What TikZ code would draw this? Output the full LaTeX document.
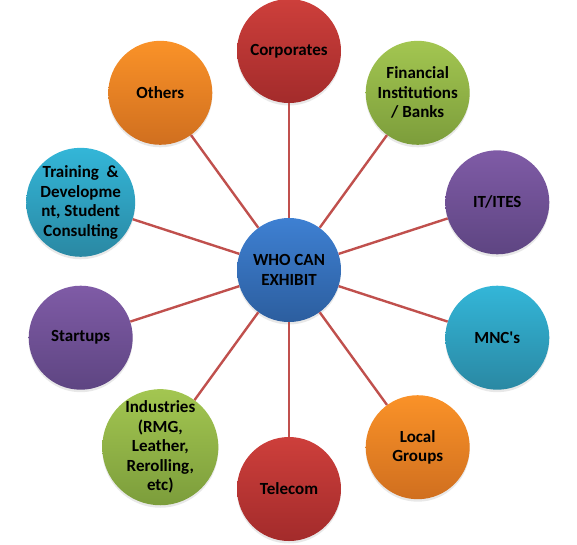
\documentclass[tikz,border=0pt]{standalone}
\usepackage{fontspec}
\setmainfont{Carlito}
\usepackage{xcolor}
\usepackage{tikz}
\usetikzlibrary{shadows}

\definecolor{redtop}{HTML}{CD3F3B}
\definecolor{redbot}{HTML}{A32B2B}
\definecolor{greentop}{HTML}{A3C651}
\definecolor{greenbot}{HTML}{7C9D3B}
\definecolor{purptop}{HTML}{7F5BA6}
\definecolor{purpbot}{HTML}{5E4582}
\definecolor{aquatop}{HTML}{33B6D8}
\definecolor{aquabot}{HTML}{2A88A3}
\definecolor{orgtop}{HTML}{FA9228}
\definecolor{orgbot}{HTML}{D06F1F}
\definecolor{bluetop}{HTML}{3E80D2}
\definecolor{bluebot}{HTML}{2C5E9F}
\definecolor{linkred}{HTML}{C0504D}

\begin{document}
\begin{tikzpicture}[
  x=1pt, y=1pt,
  font=\fontsize{17}{19.5}\selectfont\bfseries,
  bubble/.style={circle, minimum size=104pt, inner sep=0pt,
                 align=center, text=black,
                 drop shadow={opacity=0.18, shadow xshift=0pt, shadow yshift=-2.5pt}},
  redb/.style={bubble, top color=redtop, bottom color=redbot},
  greenb/.style={bubble, top color=greentop, bottom color=greenbot},
  purpb/.style={bubble, top color=purptop, bottom color=purpbot},
  aquab/.style={bubble, top color=aquatop, bottom color=aquabot},
  orgb/.style={bubble, top color=orgtop, bottom color=orgbot},
  link/.style={draw=linkred, line width=2.4pt}
]
\useasboundingbox (0,0) rectangle (577,-544);

% ---- Hub ----
\node[bubble, top color=bluetop, bottom color=bluebot] (hub) at (289,-270) {WHO CAN\\EXHIBIT};

% ---- Ring of exhibitors ----
\node[redb]   (corp)  at (289,-51)      {Corporates};
\node[greenb] (fin)   at (417.7,-92.8)  {Financial\\Institutions\\/ Banks};
\node[purpb]  (it)    at (497.3,-202.3) {IT/ITES};
\node[aquab]  (mnc)   at (497.3,-337.7) {MNC\textquotesingle s};
\node[orgb]   (local) at (417.7,-447.2) {Local\\Groups};
\node[redb]   (tel)   at (289,-489)     {Telecom};
\node[greenb] (ind)   at (160.3,-447.2) {Industries\\(RMG,\\Leather,\\Rerolling,\\etc)};
\node[purpb]  (start) at (80.7,-337.7)  {Startups};
\node[aquab]  (train) at (80.7,-202.3)  {Training\ \ \&\\Developme\\nt, Student\\Consulting};
\node[orgb]   (oth)   at (160.3,-92.8)  {Others};

% ---- Spokes ----
\draw[link] (hub) -- (corp);
\draw[link] (hub) -- (fin);
\draw[link] (hub) -- (it);
\draw[link] (hub) -- (mnc);
\draw[link] (hub) -- (local);
\draw[link] (hub) -- (tel);
\draw[link] (hub) -- (ind);
\draw[link] (hub) -- (start);
\draw[link] (hub) -- (train);
\draw[link] (hub) -- (oth);

\end{tikzpicture}
\end{document}
